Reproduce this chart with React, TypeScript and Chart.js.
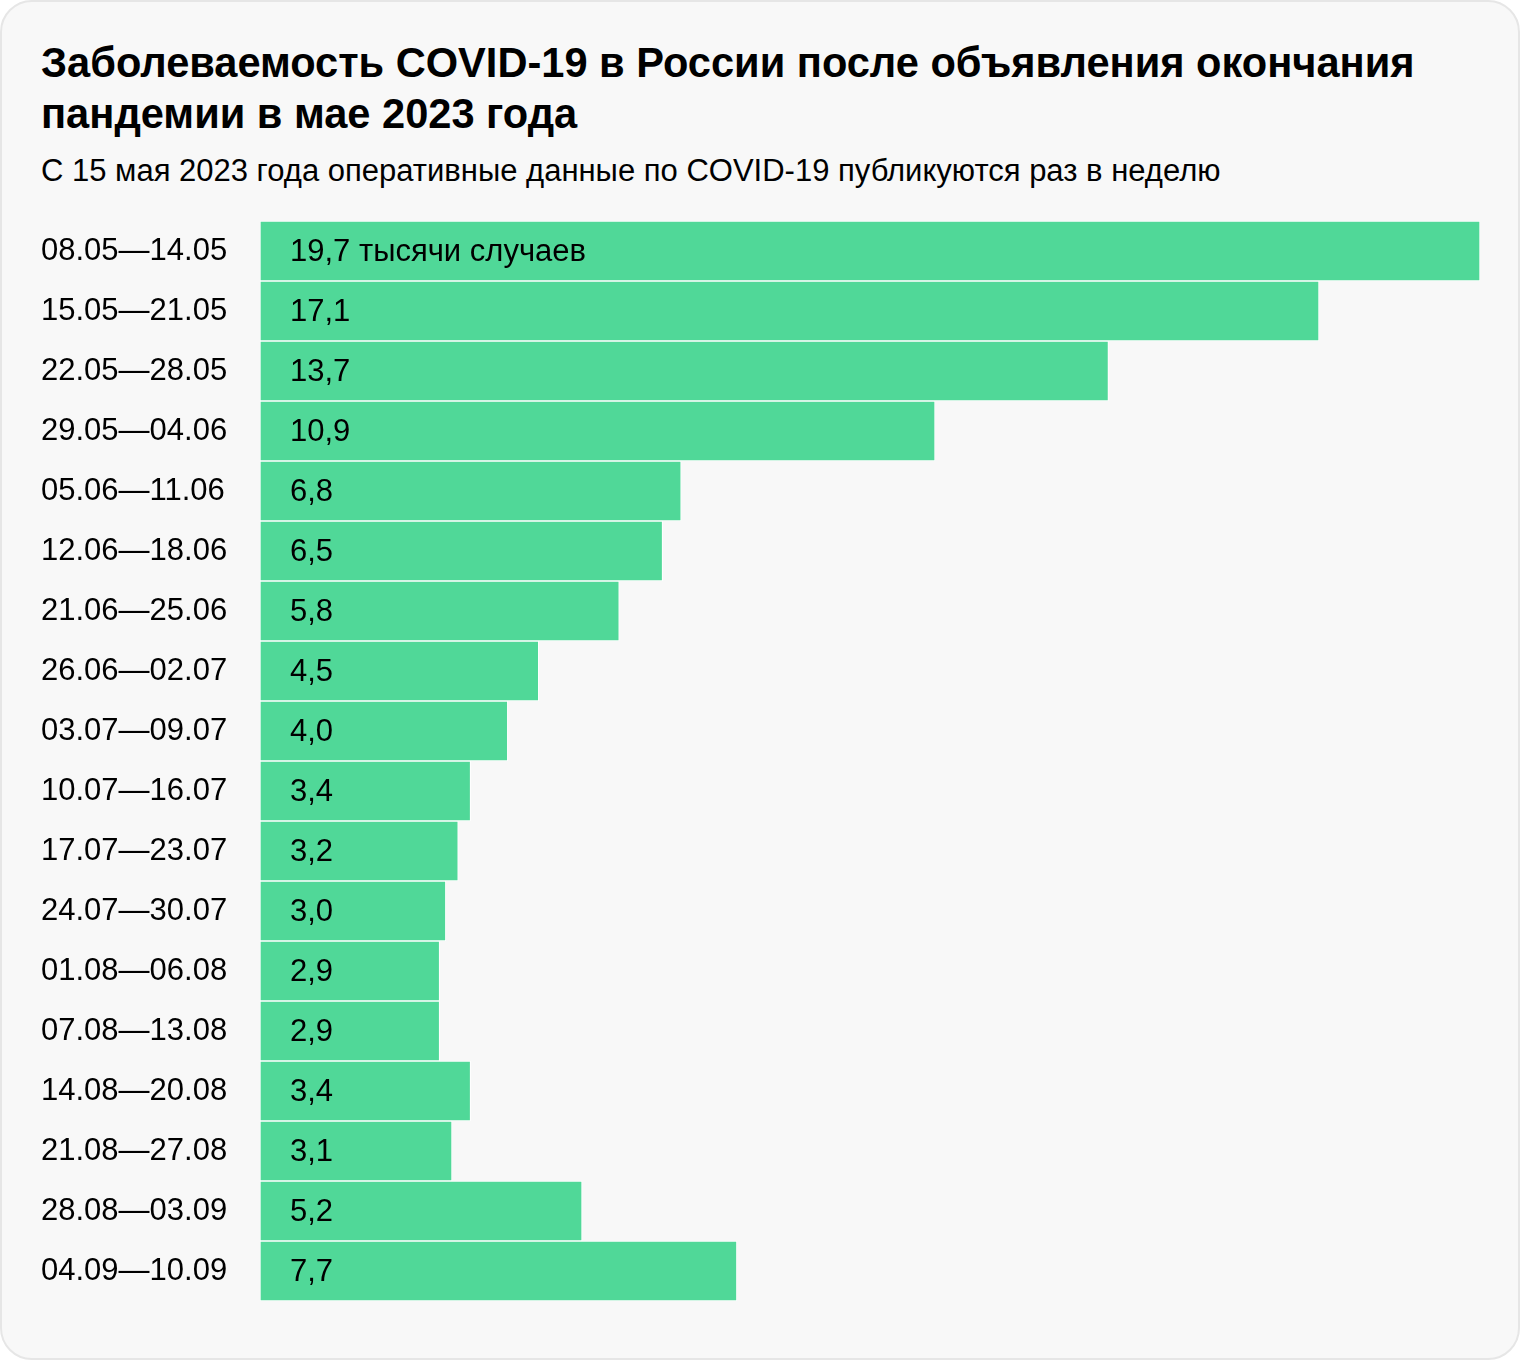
import React, { useEffect, useRef } from "react";
import { Chart, registerables } from "chart.js";

Chart.register(...registerables);

const TITLE = "Заболеваемость COVID-19 в России после объявления окончания пандемии в мае 2023 года";
const SUBTITLE = "С 15 мая 2023 года оперативные данные по COVID-19 публикуются раз в неделю";

const weeks = [
  "08.05—14.05",
  "15.05—21.05",
  "22.05—28.05",
  "29.05—04.06",
  "05.06—11.06",
  "12.06—18.06",
  "21.06—25.06",
  "26.06—02.07",
  "03.07—09.07",
  "10.07—16.07",
  "17.07—23.07",
  "24.07—30.07",
  "01.08—06.08",
  "07.08—13.08",
  "14.08—20.08",
  "21.08—27.08",
  "28.08—03.09",
  "04.09—10.09",
];

const cases = [19.7, 17.1, 13.7, 10.9, 6.8, 6.5, 5.8, 4.5, 4.0, 3.4, 3.2, 3.0, 2.9, 2.9, 3.4, 3.1, 5.2, 7.7];

const valueLabels = [
  "19,7 тысячи случаев",
  "17,1",
  "13,7",
  "10,9",
  "6,8",
  "6,5",
  "5,8",
  "4,5",
  "4,0",
  "3,4",
  "3,2",
  "3,0",
  "2,9",
  "2,9",
  "3,4",
  "3,1",
  "5,2",
  "7,7",
];

const FONT = "'Liberation Sans', Arial, sans-serif";

export default function App() {
  const canvasRef = useRef<HTMLCanvasElement | null>(null);

  useEffect(() => {
    if (!canvasRef.current) return;
    const labelPlugin = {
      id: "valueLabels",
      afterDatasetsDraw(chart: any) {
        const ctx = chart.ctx;
        const meta = chart.getDatasetMeta(0);
        ctx.save();
        ctx.font = `400 31px ${FONT}`;
        ctx.fillStyle = "#000";
        ctx.textAlign = "left";
        ctx.textBaseline = "middle";
        meta.data.forEach((bar: any, i: number) => {
          ctx.fillText(valueLabels[i], bar.base + 30, bar.y + 1.5);
        });
        ctx.restore();
      },
    };
    const chart = new Chart(canvasRef.current, {
      type: "bar",
      data: {
        labels: weeks,
        datasets: [
          {
            data: cases,
            backgroundColor: "#50d898",
            borderColor: "#ffffff",
            borderWidth: 1,
            borderSkipped: false,
            barPercentage: 1,
            categoryPercentage: 1,
          },
        ],
      },
      options: {
        indexAxis: "y",
        animation: false,
        responsive: true,
        maintainAspectRatio: false,
        layout: { padding: { left: 39, right: 38, top: 20, bottom: 20 } },
        plugins: {
          legend: { display: false },
          tooltip: { enabled: false },
        },
        scales: {
          x: {
            display: false,
            min: 0,
            max: 19.7,
          },
          y: {
            grid: { display: false },
            border: { display: false },
            afterFit(scale: any) {
              scale.width = 219;
            },
            ticks: {
              crossAlign: "far",
              color: "#000",
              font: { family: FONT, size: 31, weight: 400 },
              padding: 0,
            },
          },
        },
      },
      plugins: [labelPlugin],
    } as any);
    return () => chart.destroy();
  }, []);

  return (
    <div
      style={{
        position: "absolute",
        left: 0,
        top: 0,
        width: 1520,
        height: 1360,
        boxSizing: "border-box",
        border: "2px solid #e6e6e6",
        borderRadius: 32,
        background: "#f8f8f8",
        fontFamily: FONT,
        color: "#000",
      }}
    >
      <div
        style={{
          position: "absolute",
          left: 39,
          top: 35,
          width: 1440,
          fontSize: 41.6,
          fontWeight: 700,
          lineHeight: "51px",
        }}
      >
        {TITLE}
      </div>
      <div
        style={{
          position: "absolute",
          left: 39,
          top: 151,
          fontSize: 31,
          fontWeight: 400,
          lineHeight: "36px",
          whiteSpace: "nowrap",
        }}
      >
        {SUBTITLE}
      </div>
      <div style={{ position: "absolute", left: 0, top: 199, width: 1516, height: 1120 }}>
        <canvas ref={canvasRef} />
      </div>
    </div>
  );
}
